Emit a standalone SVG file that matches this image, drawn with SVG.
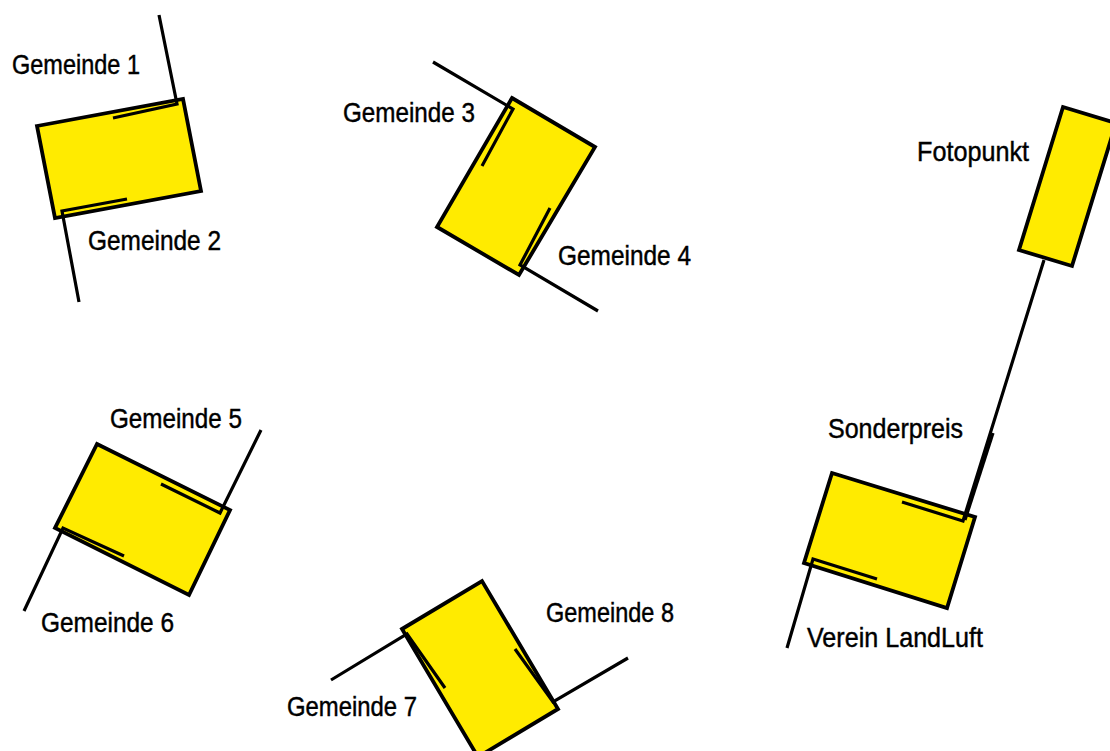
<svg xmlns="http://www.w3.org/2000/svg" width="1110" height="751" viewBox="0 0 1110 751">
<style>
.box{fill:#ffeb00;stroke:#000;stroke-width:3.8;stroke-linejoin:miter}
.ln{fill:none;stroke:#000;stroke-width:3.2;stroke-linejoin:miter;stroke-linecap:butt}
.lbl{font-family:"Liberation Sans Narrow","Liberation Sans",Arial,sans-serif;font-size:28px;fill:#000;stroke:#000;stroke-width:0.45}
</style>
<rect width="1110" height="751" fill="#fff"/>
<g id="n1"><polygon class="box" points="37,126 183,99 201,191 55,218"/></g>
<g id="n2"><polygon class="box" points="512,98 595,147 519,275 437,227"/></g>
<g id="n3"><polygon class="box" points="97,444 230,510 189,595 55,528"/></g>
<g id="n4"><polygon class="box" points="402,629 482,581 558,709 478,757"/></g>
<g id="n5"><polygon class="box" points="832,473 975,517 947,608 804,563"/></g>
<g id="n6"><polygon class="box" points="1063,107 1116,123 1072,266 1019,250"/></g>
<g id="connectors">
<polyline class="ln" points="159,15 177,104 113,118"/>
<polyline class="ln" points="79,302 62,211 127,199"/>
<polyline class="ln" points="433,62 513,109 482,166"/>
<polyline class="ln" points="598,311 520,265 550,208"/>
<polyline class="ln" points="261,430 220,513 161,484"/>
<polyline class="ln" points="24,611 63,528 124,556"/>
<polyline class="ln" points="331,680 407,634 445,688"/>
<polyline class="ln" points="628,658 553,702 515,649"/>
<polyline class="ln" points="1044,260 963,521 902,502"/>
<polyline class="ln" points="993,433 965,520"/>
<polyline class="ln" points="787,648 813,559 877,579"/>
</g>
<g id="labels">
<text class="lbl" x="12" y="74" textLength="128" lengthAdjust="spacingAndGlyphs">Gemeinde 1</text>
<text class="lbl" x="88" y="250" textLength="133" lengthAdjust="spacingAndGlyphs">Gemeinde 2</text>
<text class="lbl" x="343" y="122" textLength="132" lengthAdjust="spacingAndGlyphs">Gemeinde 3</text>
<text class="lbl" x="558" y="265" textLength="133" lengthAdjust="spacingAndGlyphs">Gemeinde 4</text>
<text class="lbl" x="110" y="428" textLength="132" lengthAdjust="spacingAndGlyphs">Gemeinde 5</text>
<text class="lbl" x="41" y="632" textLength="133" lengthAdjust="spacingAndGlyphs">Gemeinde 6</text>
<text class="lbl" x="287" y="716" textLength="130" lengthAdjust="spacingAndGlyphs">Gemeinde 7</text>
<text class="lbl" x="546" y="622" textLength="128" lengthAdjust="spacingAndGlyphs">Gemeinde 8</text>
<text class="lbl" x="828" y="438" textLength="135" lengthAdjust="spacingAndGlyphs">Sonderpreis</text>
<text class="lbl" x="807" y="647" textLength="176" lengthAdjust="spacingAndGlyphs">Verein LandLuft</text>
<text class="lbl" x="917" y="161" textLength="112" lengthAdjust="spacingAndGlyphs">Fotopunkt</text>
</g>
</svg>
